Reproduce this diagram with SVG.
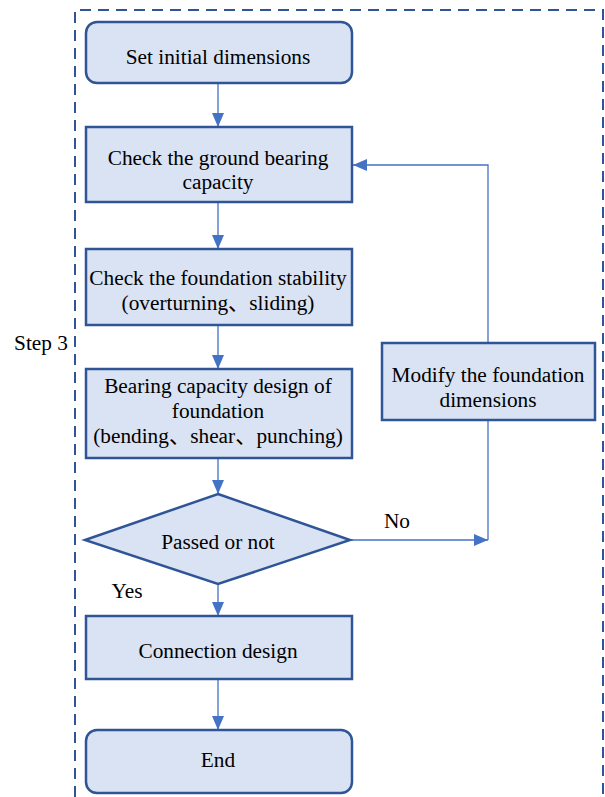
<svg xmlns="http://www.w3.org/2000/svg" width="605" height="797" viewBox="0 0 605 797">
<style>
.box{fill:#DAE3F3;stroke:#2F5597;stroke-width:2.5}
.ln{fill:none;stroke:#4472C4;stroke-width:1.3}
.t{font-family:"Liberation Serif","Noto Sans CJK SC",serif;font-size:21.3px;fill:#000;text-anchor:middle}
.frame{fill:none;stroke:#2F5597;stroke-width:2;stroke-dasharray:11,7}
</style>
<defs>
<marker id="ah" viewBox="0 0 14 12" refX="14" refY="6" markerWidth="14" markerHeight="12" markerUnits="userSpaceOnUse" orient="auto">
<path d="M0,0 L14,6 L0,12 Z" fill="#4472C4"/>
</marker>
</defs>
<rect width="605" height="797" fill="#fff"/>
<path class="frame" d="M75,797 L75,10 L603,10 L603,797"/>
<text class="t" x="41" y="350">Step 3</text>
<g id="connectors">
<line class="ln" x1="218" y1="83" x2="218" y2="127" marker-end="url(#ah)"/>
<line class="ln" x1="218" y1="202" x2="218" y2="249" marker-end="url(#ah)"/>
<line class="ln" x1="218" y1="325" x2="218" y2="369" marker-end="url(#ah)"/>
<line class="ln" x1="218" y1="458" x2="218" y2="494" marker-end="url(#ah)"/>
<line class="ln" x1="218" y1="584" x2="218" y2="616" marker-end="url(#ah)"/>
<line class="ln" x1="218" y1="679" x2="218" y2="730" marker-end="url(#ah)"/>
<polyline class="ln" points="350,540 488,540" marker-end="url(#ah)"/>
<line class="ln" x1="488" y1="420" x2="488" y2="540"/>
<polyline class="ln" points="488,343 488,165 353,165" marker-end="url(#ah)"/>
<text class="t" x="397" y="528">No</text>
<text class="t" x="127" y="598">Yes</text>
</g>
<g id="n1"><rect class="box" x="86" y="22" width="266" height="61" rx="11"/><text class="t" x="218" y="64">Set initial dimensions</text></g>
<g id="n2"><rect class="box" x="86" y="127" width="266" height="75"/><text class="t" x="218" y="165">Check the ground bearing</text><text class="t" x="218" y="189">capacity</text></g>
<g id="n3"><rect class="box" x="86" y="249" width="266" height="76"/><text class="t" x="218" y="285">Check the foundation stability</text><text class="t" x="218" y="310">(overturning、sliding)</text></g>
<g id="n4"><rect class="box" x="86" y="369" width="266" height="89"/><text class="t" x="218" y="393">Bearing capacity design of</text><text class="t" x="218" y="418">foundation</text><text class="t" x="218" y="443">(bending、shear、punching)</text></g>
<g id="n5"><polygon class="box" points="218,494 350,540 218,584 85,540"/><text class="t" x="218" y="549">Passed or not</text></g>
<g id="n6"><rect class="box" x="86" y="616" width="266" height="63"/><text class="t" x="218" y="658">Connection design</text></g>
<g id="n7"><rect class="box" x="86" y="730" width="266" height="63" rx="11"/><text class="t" x="218" y="767">End</text></g>
<g id="n8"><rect class="box" x="382" y="343" width="213" height="77"/><text class="t" x="488" y="382">Modify the foundation</text><text class="t" x="488" y="407">dimensions</text></g>
</svg>
